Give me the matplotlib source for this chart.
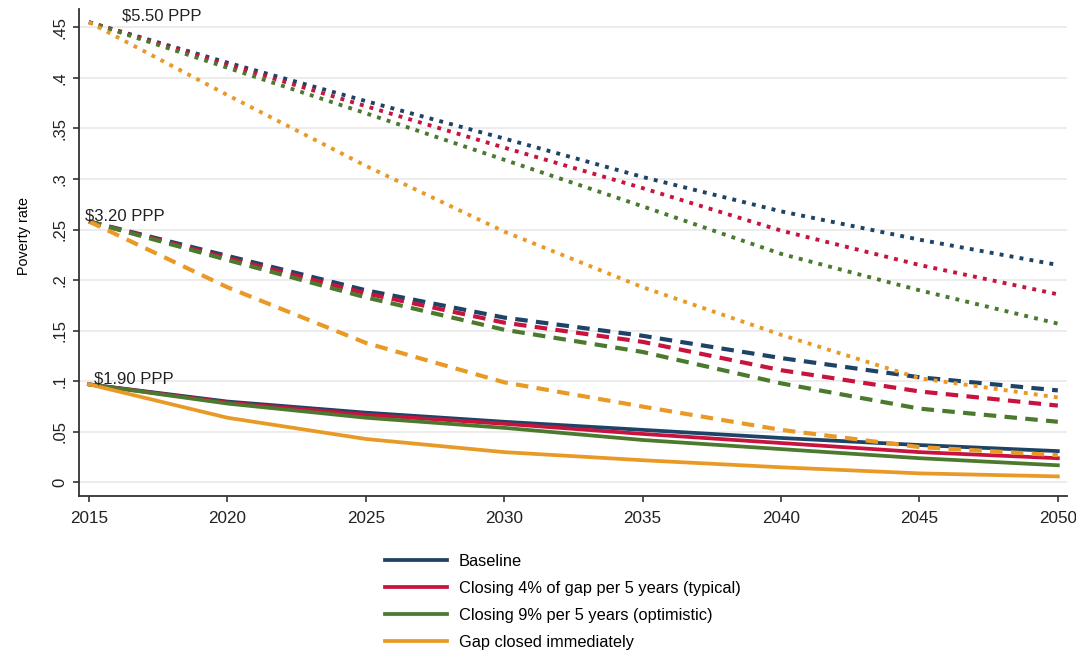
import matplotlib
matplotlib.use("Agg")
import matplotlib.pyplot as plt
from matplotlib.lines import Line2D

plt.rcParams['font.family'] = ['Liberation Sans', 'DejaVu Sans']

# 每 5 年一个点
years = [2015, 2020, 2025, 2030, 2035, 2040, 2045, 2050]

# $1.90 PPP 贫困线
ppp190_baseline = [0.097, 0.080, 0.069, 0.060, 0.052, 0.044, 0.037, 0.031]
ppp190_typical = [0.097, 0.079, 0.067, 0.058, 0.048, 0.039, 0.030, 0.024]
ppp190_optimistic = [0.097, 0.078, 0.064, 0.054, 0.042, 0.033, 0.024, 0.017]
ppp190_closed = [0.097, 0.064, 0.043, 0.030, 0.022, 0.015, 0.009, 0.006]

# $3.20 PPP 贫困线
ppp320_baseline = [0.258, 0.224, 0.190, 0.163, 0.145, 0.123, 0.104, 0.091]
ppp320_typical = [0.258, 0.222, 0.187, 0.158, 0.139, 0.111, 0.090, 0.076]
ppp320_optimistic = [0.258, 0.220, 0.183, 0.151, 0.129, 0.098, 0.073, 0.060]
ppp320_closed = [0.258, 0.193, 0.138, 0.099, 0.075, 0.052, 0.035, 0.027]

# $5.50 PPP 贫困线
ppp550_baseline = [0.455, 0.415, 0.377, 0.340, 0.302, 0.268, 0.240, 0.215]
ppp550_typical = [0.455, 0.413, 0.372, 0.331, 0.291, 0.249, 0.215, 0.186]
ppp550_optimistic = [0.455, 0.410, 0.365, 0.319, 0.273, 0.226, 0.190, 0.157]
ppp550_closed = [0.455, 0.383, 0.313, 0.248, 0.193, 0.146, 0.103, 0.084]

scenario_labels = [
    "Baseline",
    "Closing 4% of gap per 5 years (typical)",
    "Closing 9% per 5 years (optimistic)",
    "Gap closed immediately",
]
line_labels = [r"\$5.50 PPP", r"\$3.20 PPP", r"\$1.90 PPP"]

yticks = [0, 0.05, 0.1, 0.15, 0.2, 0.25, 0.3, 0.35, 0.4, 0.45]
ytick_labels = ["0", ".05", ".1", ".15", ".2", ".25", ".3", ".35", ".4", ".45"]
xticks = [2015, 2020, 2025, 2030, 2035, 2040, 2045, 2050]

COLORS = ["#1d4466", "#c8133f", "#4b7a2e", "#e99a26"]

fig = plt.figure(figsize=(10.76, 6.59), dpi=100)
ax = fig.add_axes([0.0734, 0.2473, 0.9182, 0.739])

groups = [
    ([ppp190_baseline, ppp190_typical, ppp190_optimistic, ppp190_closed],
     dict(linestyle="-", linewidth=2.7)),
    ([ppp320_baseline, ppp320_typical, ppp320_optimistic, ppp320_closed],
     dict(linestyle=(0, (3.0, 2.0)), linewidth=3.0, dash_capstyle="butt")),
    ([ppp550_baseline, ppp550_typical, ppp550_optimistic, ppp550_closed],
     dict(linestyle=(0, (1, 1.6)), linewidth=2.8, dash_capstyle="butt")),
]
for series, style in groups:
    for values, color in zip(series, COLORS):
        ax.plot(years, values, color=color, **style)

# 贫困线标注
ax.text(2016.2, 0.461, line_labels[0], fontsize=12, va="center", ha="left", color="#222222")
ax.text(2014.86, 0.263, line_labels[1], fontsize=12, va="center", ha="left", color="#222222")
ax.text(2015.2, 0.102, line_labels[2], fontsize=12, va="center", ha="left", color="#222222")

ax.set_xlim(2014.64, 2050.33)
ax.set_ylim(-0.0134, 0.468)
ax.set_xticks(xticks)
ax.set_xticklabels([str(x) for x in xticks], fontsize=12.3)
ax.set_yticks(yticks)
ax.set_yticklabels(ytick_labels, fontsize=12, rotation=90, va="center")
ax.set_ylabel("Poverty rate", fontsize=10.4)
ax.yaxis.set_label_coords(-0.0486, 0.534)

ax.grid(axis="y", color="#eaeaea", linewidth=1.3)
ax.set_axisbelow(True)
for side in ["top", "right"]:
    ax.spines[side].set_visible(False)
for side in ["left", "bottom"]:
    ax.spines[side].set_color("#333333")
    ax.spines[side].set_linewidth(1.3)
ax.tick_params(direction="out", length=4.5, width=1.2, color="#333333", labelcolor="#222222")
ax.tick_params(axis="x", pad=6)

handles = [Line2D([0], [0], color=c, linewidth=2.7) for c in COLORS]
fig.legend(handles, scenario_labels, loc="upper left",
           bbox_to_anchor=(0.3578, 0.160), frameon=False, fontsize=11.75,
           handlelength=3.8, handletextpad=0.74, labelspacing=0.74,
           borderaxespad=0, borderpad=0)

fig.savefig("out.png", dpi=100)
